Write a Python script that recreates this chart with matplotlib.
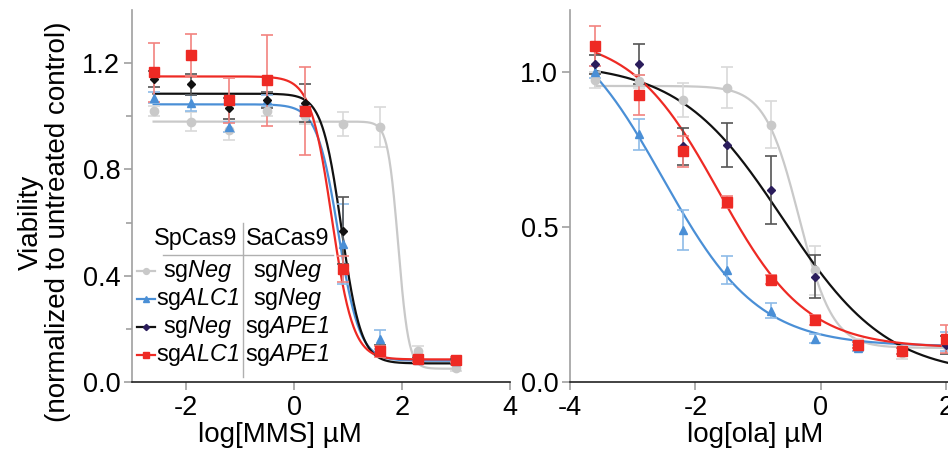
import numpy as np
import matplotlib.pyplot as plt

plt.rcParams['font.family'] = ['Liberation Sans', 'DejaVu Sans']
plt.rcParams['mathtext.fontset'] = 'custom'
plt.rcParams['mathtext.rm'] = 'Liberation Sans'
plt.rcParams['mathtext.sf'] = 'Liberation Sans:italic'
plt.rcParams['axes.unicode_minus'] = False
plt.rcParams['font.size'] = 19.5

# --- MMS panel (log uM) ---
mms_x = [-2.6, -1.9, -1.2, -0.5, 0.2, 0.9, 1.6, 2.3, 3.0]
mms_y = {
    'neg_neg': [1.02, 0.98, 0.95, 1.02, 1.00, 0.97, 0.96, 0.115, 0.053],
    'alc_neg': [1.07, 1.05, 0.96, 1.06, 1.02, 0.52, 0.16, 0.084, 0.08],
    'neg_ape': [1.14, 1.12, 1.03, 1.06, 1.05, 0.57, 0.12, 0.084, 0.078],
    'alc_ape': [1.165, 1.23, 1.06, 1.135, 1.02, 0.425, 0.115, 0.087, 0.084],
}
mms_err = {
    'neg_neg': [0.02, 0.035, 0.04, 0.02, 0.03, 0.045, 0.075, 0.02, 0.01],
    'alc_neg': [0.02, 0.03, 0.02, 0.02, 0.02, 0.15, 0.035, 0.01, 0.01],
    'neg_ape': [0.03, 0.04, 0.04, 0.03, 0.07, 0.125, 0.02, 0.01, 0.01],
    'alc_ape': [0.11, 0.08, 0.085, 0.17, 0.165, 0.05, 0.02, 0.01, 0.01],
}
# fitted curves: top, bottom, logIC50, hill
mms_fit = {
    'neg_neg': [0.98, 0.05, 1.93, 4.5],
    'alc_neg': [1.045, 0.08, 0.82, 2.2],
    'neg_ape': [1.085, 0.07, 0.88, 2.4],
    'alc_ape': [1.15, 0.085, 0.70, 2.2],
}

# --- olaparib panel (log uM) ---
ola_x = [-3.6, -2.9, -2.2, -1.5, -0.8, -0.1, 0.6, 1.3, 2.0]
ola_y = {
    'neg_neg': [0.975, 0.97, 0.91, 0.95, 0.83, 0.36, 0.12, 0.095, 0.12],
    'alc_neg': [1.0, 0.80, 0.49, 0.36, 0.23, 0.14, 0.11, 0.10, 0.13],
    'neg_ape': [1.025, 1.025, 0.76, 0.765, 0.62, 0.34, 0.12, 0.10, 0.12],
    'alc_ape': [1.085, 0.925, 0.745, 0.58, 0.33, 0.20, 0.12, 0.10, 0.14],
}
ola_err = {
    'neg_neg': [0.025, 0.02, 0.055, 0.065, 0.075, 0.08, 0.02, 0.02, 0.03],
    'alc_neg': [0.02, 0.05, 0.065, 0.045, 0.025, 0.015, 0.01, 0.01, 0.03],
    'neg_ape': [0.03, 0.065, 0.06, 0.07, 0.11, 0.07, 0.01, 0.01, 0.03],
    'alc_ape': [0.065, 0.065, 0.05, 0.02, 0.015, 0.015, 0.01, 0.01, 0.045],
}
ola_fit = {
    'neg_neg': [0.955, 0.11, -0.35, 1.6],
    'alc_neg': [1.2, 0.115, -2.52, 0.57],
    'neg_ape': [1.03, 0.02, -0.6, 0.52],
    'alc_ape': [1.12, 0.11, -1.63, 0.62],
}

order = ['neg_neg', 'alc_neg', 'neg_ape', 'alc_ape']
sp_names = ['sg$\\mathsf{Neg}$', 'sg$\\mathsf{ALC1}$', 'sg$\\mathsf{Neg}$', 'sg$\\mathsf{ALC1}$']
sa_names = ['sg$\\mathsf{Neg}$', 'sg$\\mathsf{Neg}$', 'sg$\\mathsf{APE1}$', 'sg$\\mathsf{APE1}$']

line_col = {'neg_neg': '#c9c9c9', 'alc_neg': '#4a8fd6', 'neg_ape': '#111111', 'alc_ape': '#ee2a24'}
err_col = {'neg_neg': '#d9d9d9', 'alc_neg': '#8dbbe8', 'neg_ape': '#555555', 'alc_ape': '#f2837f'}
marker = {'neg_neg': 'o', 'alc_neg': '^', 'neg_ape': 'D', 'alc_ape': 's'}
msize = {'neg_neg': 6, 'alc_neg': 6, 'neg_ape': 4.5, 'alc_ape': 6.5}


def logistic(x, top, bottom, c, h):
    return bottom + (top - bottom) / (1 + 10 ** ((x - c) * h))


def draw_panel(ax, xs, ys, errs, fits, x_end, mcol_black):
    for k in order:
        xx = np.linspace(xs[0], x_end, 400)
        ax.plot(xx, logistic(xx, *fits[k]), color=line_col[k], lw=1.6, zorder=2)
        mc = mcol_black if k == 'neg_ape' else line_col[k]
        ax.errorbar(xs, ys[k], yerr=errs[k], fmt=marker[k], color=mc, ms=msize[k],
                    ecolor=err_col[k], elinewidth=1.2, capsize=4, capthick=1.2, zorder=3)


def style_axes(ax):
    ax.spines['top'].set_visible(False)
    ax.spines['right'].set_visible(False)
    ax.spines['left'].set_color('#a0a0a0')
    ax.spines['left'].set_linewidth(1.2)
    ax.spines['bottom'].set_color('#222222')
    ax.spines['bottom'].set_linestyle((0, (1, 1)))
    ax.spines['bottom'].set_linewidth(1.2)
    ax.tick_params(axis='both', colors='#a0a0a0', labelcolor='black', length=6, width=1.2)
    ax.tick_params(axis='y', pad=2.5)
    ax.tick_params(axis='x', pad=3.5)


fig = plt.figure(figsize=(9.48, 4.53), dpi=100)

ax1 = fig.add_axes([132 / 948, 71 / 453, 378 / 948, 372 / 453])
draw_panel(ax1, mms_x, mms_y, mms_err, mms_fit, 3.0, line_col['neg_ape'])
ax1.set_xlim(-3, 4)
ax1.set_ylim(0, 1.4)
ax1.set_xticks([-2, 0, 2, 4])
ax1.set_yticks([0.0, 0.4, 0.8, 1.2])
ax1.set_yticks([0.2, 0.6, 1.0], minor=True)
ax1.set_yticklabels(['0.0', '0.4', '0.8', '1.2'])
style_axes(ax1)
ax1.tick_params(axis='y', which='minor', colors='#a0a0a0', length=4, width=1.2)
ax1.set_xlabel('log[MMS] µM', fontsize=20)
ax1.xaxis.set_label_coords(148 / 378, -0.108)
ax1.set_ylabel('Viability\n(normalized to untreated control)', fontsize=20, linespacing=1.05)
ax1.yaxis.set_label_coords(-0.162, 0.43)

ax2 = fig.add_axes([570 / 948, 71 / 453, 439 / 948, 372 / 453])
draw_panel(ax2, ola_x, ola_y, ola_err, ola_fit, 3.0, '#2b1d5c')
ax2.set_xlim(-4, 3)
ax2.set_ylim(0, 1.2)
ax2.set_xticks([-4, -2, 0, 2])
ax2.set_yticks([0.0, 0.5, 1.0])
ax2.set_yticklabels(['0.0', '0.5', '1.0'])
style_axes(ax2)
ax2.set_xlabel('log[ola] µM', fontsize=20)
ax2.xaxis.set_label_coords(185 / 439, -0.108)

# legend table inside left panel
tf = ax1.transAxes
lfs = 16.8
ax1.text(0.168, 0.387, 'SpCas9', transform=tf, ha='center', va='center', fontsize=lfs)
ax1.text(0.412, 0.387, 'SaCas9', transform=tf, ha='center', va='center', fontsize=lfs)
ax1.plot([0.082, 0.532], [0.341, 0.341], transform=tf, color='#b0b0b0', lw=1.0, clip_on=False)
ax1.plot([0.294, 0.294], [0.427, 0.013], transform=tf, color='#b0b0b0', lw=1.0, clip_on=False)
row_y = [0.298, 0.223, 0.148, 0.073]
for k, sp, sa, yy in zip(order, sp_names, sa_names, row_y):
    ax1.plot([0.013, 0.061], [yy, yy], transform=tf, color=line_col[k], lw=1.6, clip_on=False)
    mc = '#2b1d5c' if k == 'neg_ape' else line_col[k]
    ax1.plot([0.037], [yy], transform=tf, marker=marker[k], color=mc, ms=msize[k] * 0.7,
             clip_on=False)
    ax1.text(0.173, yy, sp, transform=tf, ha='center', va='center', fontsize=lfs)
    ax1.text(0.412, yy, sa, transform=tf, ha='center', va='center', fontsize=lfs)

fig.savefig('out.png', dpi=100)
